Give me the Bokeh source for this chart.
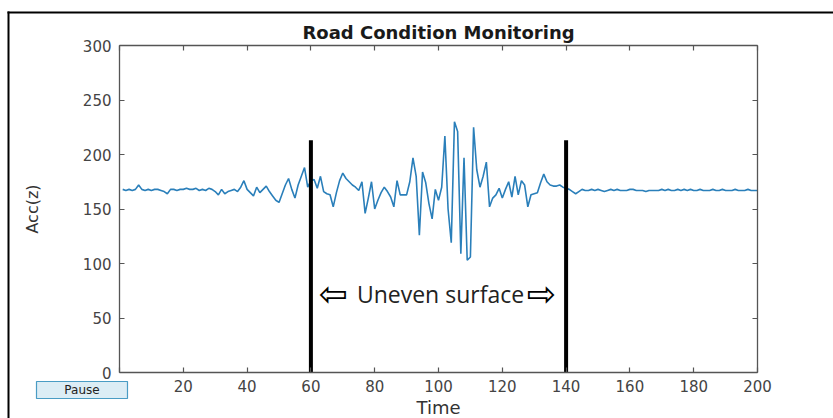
from bokeh.plotting import figure
from bokeh.models import Label, LinearAxis, FixedTicker, Range1d
from bokeh.embed import file_html
from bokeh.resources import INLINE

# ---- data ----
time = list(range(1, 201))
acc = [
    168, 167, 168, 167, 168, 172, 168, 167, 168, 167,
    168, 168, 167, 166, 164, 168, 168, 167, 168, 168,
    169, 168, 168, 169, 167, 168, 167, 169, 168, 166,
    163, 168, 164, 166, 167, 168, 166, 170, 176, 168,
    165, 162, 170, 165, 168, 171, 166, 162, 158, 156,
    164, 172, 178, 168, 160, 172, 180, 188, 170, 176,
    177, 169, 180, 166, 164, 163, 152, 165, 176, 183,
    178, 175, 172, 170, 167, 175, 146, 160, 175, 150,
    158, 165, 170, 166, 161, 152, 176, 163, 163, 163,
    175, 197, 180, 126, 184, 174, 155, 141, 168, 158,
    170, 217, 150, 119, 230, 221, 109, 197, 103, 106,
    225, 186, 170, 180, 193, 152, 160, 163, 169, 160,
    168, 175, 161, 180, 163, 176, 172, 152, 163, 164,
    165, 174, 182, 175, 172, 171, 171, 172, 170, 169,
    168, 166, 164, 166, 168, 167, 167, 168, 167, 168,
    167, 166, 167, 168, 167, 168, 167, 167, 167, 168,
    168, 167, 167, 167, 166, 167, 167, 167, 167, 168,
    167, 168, 167, 167, 168, 167, 168, 167, 168, 167,
    167, 168, 167, 167, 167, 168, 167, 167, 168, 167,
    167, 167, 168, 167, 167, 167, 168, 167, 167, 167,
]
x_ticks = list(range(0, 201, 20))
y_ticks = list(range(0, 301, 50))
x_min, x_max = 0, 200
y_min, y_max = 0, 300
marker_times = [60, 140]
marker_top = 213
title_text = "Road Condition Monitoring"
x_label = "Time"
y_label = "Acc(z)"
region_text = "Uneven surface"
button_text = "Pause"

# ---- layout (pixels on the 833x418 canvas) ----
W, H = 833, 418
FL, FR, FT, FB = 119, 757, 45, 372          # plot-box edges
SX = (x_max - x_min) / (FR - FL)
SY = (y_max - y_min) / (FB - FT)


def dx(px):
    return x_min + (px - FL) * SX


def dy(py):
    return y_min + (FB - py) * SY


AXIS_COLOR = "#555555"
FONT = "DejaVu Sans"

p = figure(width=W, height=H, output_backend="svg", toolbar_location=None,
           title=None,
           x_range=Range1d(dx(0), dx(W)), y_range=Range1d(dy(H), dy(0)),
           min_border_left=0, min_border_right=0,
           min_border_top=0, min_border_bottom=0)
p.background_fill_color = "white"
p.border_fill_color = "white"
p.grid.visible = False
p.outline_line_color = None


def style_axis(ax, ticks, bounds, loc, tick_in=5, tick_out=0):
    ax.ticker = FixedTicker(ticks=ticks)
    ax.bounds = bounds
    ax.fixed_location = loc
    ax.major_tick_in = tick_in
    ax.major_tick_out = tick_out
    ax.minor_tick_line_color = None
    ax.axis_line_color = AXIS_COLOR
    ax.axis_line_width = 1.3
    ax.major_tick_line_color = AXIS_COLOR
    ax.major_tick_line_width = 1.2
    ax.major_label_text_font = FONT
    ax.major_label_text_font_size = "15px"
    ax.major_label_text_color = "#444444"
    ax.axis_label_text_font = FONT
    ax.axis_label_text_font_style = "normal"
    ax.axis_label_text_color = "#333333"


style_axis(p.xaxis[0], x_ticks, (x_min, x_max), y_min)
style_axis(p.yaxis[0], y_ticks, (y_min, y_max), x_min)
p.xaxis[0].major_label_standoff = 7
p.yaxis[0].major_label_standoff = 8
p.xaxis[0].major_label_overrides = {0: ""}
p.xaxis[0].axis_label = x_label
p.xaxis[0].axis_label_text_font_size = "18px"
p.xaxis[0].axis_label_standoff = 2
p.yaxis[0].axis_label = y_label
p.yaxis[0].axis_label_text_font_size = "16px"
p.yaxis[0].axis_label_standoff = 38

# box edges with inward ticks: top edge and right edge
top_ax = LinearAxis()
style_axis(top_ax, x_ticks, (x_min, x_max), y_max)
right_ax = LinearAxis()
style_axis(right_ax, y_ticks, (y_min, y_max), x_max, tick_in=0, tick_out=5)
for ax, ticks in ((top_ax, x_ticks), (right_ax, y_ticks)):
    ax.major_label_overrides = {t: "" for t in ticks}
    ax.major_label_text_font_size = "1px"
    ax.major_label_standoff = 0
p.add_layout(top_ax, "above")
p.add_layout(right_ax, "left")

# signal
p.line(time, acc, line_color="#2a7fba", line_width=1.6)

# region markers
p.segment(x0=marker_times, y0=[y_min] * 2, x1=marker_times,
          y1=[marker_top] * 2, line_color="black", line_width=4)

# title
p.add_layout(Label(x=(x_min + x_max) / 2, y=dy(32), text=title_text,
                   text_font=FONT, text_font_style="bold",
                   text_font_size="18px", text_align="center",
                   text_baseline="middle", text_color="#1a1a1a"))

# uneven-surface annotation
ann_y = dy(293)
p.add_layout(Label(x=dx(440), y=ann_y, text=region_text, text_font="Open Sans",
                   text_font_size="23px", text_align="center",
                   text_baseline="middle", text_color="#222222"))
p.add_layout(Label(x=dx(333), y=ann_y, text="\u21e6", text_font="DejaVu Sans",
                   text_font_size="35px", text_align="center",
                   text_baseline="middle", text_color="black"))
p.add_layout(Label(x=dx(541), y=ann_y, text="\u21e8", text_font="DejaVu Sans",
                   text_font_size="35px", text_align="center",
                   text_baseline="middle", text_color="black"))

# pause button
p.quad(left=[dx(36)], right=[dx(127)], top=[dy(381)], bottom=[dy(398)],
       fill_color="#dcedf5", line_color="#4a9cc4", line_width=1.2)
p.add_layout(Label(x=dx(81.5), y=dy(389.5), text=button_text, text_font=FONT,
                   text_font_size="12px", text_align="center",
                   text_baseline="middle", text_color="#222222"))

# outer frame (top and left edges) as thin filled bars, no stroke
p.quad(left=[dx(7), dx(7)], right=[dx(W + 5), dx(9)],
       top=[dy(11), dy(11)], bottom=[dy(13), dy(H + 5)],
       fill_color="black", line_color=None)

open("out.html", "w").write(file_html(p, INLINE))
